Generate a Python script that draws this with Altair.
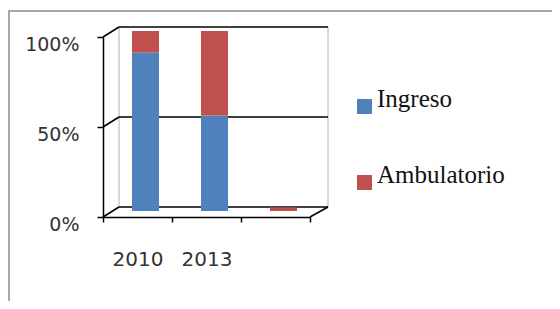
import altair as alt
import pandas as pd

categories = ["2010", "2013", " "]
series = ["Ingreso", "Ambulatorio"]
ingreso = [0.88, 0.53, 0.0]
ambulatorio = [0.12, 0.47, 0.02]
colors = ["#4F81BD", "#C0504D"]
wall_levels = [0.0, 0.5, 1.0]

rows = []
for i, c in enumerate(categories):
    rows.append({"cat": c, "serie": "Ingreso", "val": ingreso[i], "ord": 0})
    rows.append({"cat": c, "serie": "Ambulatorio", "val": ambulatorio[i], "ord": 1})
df = pd.DataFrame(rows)
walls = pd.DataFrame({"v": wall_levels})

W, H = 207, 180
DX, DY = 16, -10
PL, PT = 95, 29
TOTW, TOTH = 544, 293

yscale = alt.Scale(domain=[0, 1])
xscale = alt.Scale(domain=categories, paddingInner=0, paddingOuter=0)

bars = alt.Chart(df).mark_bar(size=27, xOffset=8, yOffset=-6).encode(
    x=alt.X("cat:N", scale=xscale, sort=categories,
            axis=alt.Axis(title=None, labelAngle=0, tickBand="extent", tickSize=5,
                          domainColor="#000000", tickColor="#000000", labelColor="#333333",
                          labelFont="DejaVu Sans", labelFontSize=20, labelPadding=27,
                          domainWidth=1.5, tickWidth=1.5)),
    y=alt.Y("val:Q", stack="zero", scale=yscale,
            axis=alt.Axis(title=None, values=[0, 0.5, 1], format=".0%", grid=False,
                          tickSize=6, domainColor="#000000", tickColor="#000000",
                          labelColor="#333333", labelFont="DejaVu Sans", labelFontSize=19,
                          labelPadding=18, labelOffset=7, domainWidth=1.5, tickWidth=1.5)),
    color=alt.Color("serie:N", scale=alt.Scale(domain=series, range=colors),
                    legend=alt.Legend(title=None, orient="none", legendX=249, legendY=57,
                                      symbolType="square", symbolSize=225,
                                      symbolStrokeWidth=0,
                                      labelFont="Liberation Serif, Times New Roman, DejaVu Serif, serif",
                                      labelFontSize=25, labelColor="#111111",
                                      labelOffset=0, rowPadding=48,
                                      labelBaseline="alphabetic")),
    order=alt.Order("ord:Q"),
)

back_h = alt.Chart(walls).mark_rule(color="#000000", strokeWidth=1.5, yOffset=DY).encode(
    x=alt.value(DX), x2=alt.value(W + 18), y=alt.Y("v:Q", scale=yscale)
)
diag = alt.Chart(walls).mark_rule(color="#000000", strokeWidth=1.5, y2Offset=DY).encode(
    x=alt.value(0), x2=alt.value(DX), y=alt.Y("v:Q", scale=yscale), y2=alt.Y2("v")
)
floor_r = alt.Chart(walls).transform_filter("datum.v == 0").mark_rule(
    color="#000000", strokeWidth=1.5, y2Offset=DY).encode(
    x=alt.value(W), x2=alt.value(W + 18), y=alt.Y("v:Q", scale=yscale), y2=alt.Y2("v")
)
back_v = alt.Chart(pd.DataFrame({"p": [DX, W + 18]})).mark_rule(
    color="#b0b0b0", strokeWidth=1, yOffset=DY, y2Offset=DY).encode(
    x=alt.X("p:Q", scale=None), y=alt.datum(0, scale=yscale), y2=alt.datum(1)
)
frame_top = alt.Chart(walls).transform_filter("datum.v == 0").mark_rule(
    color="#a8a8a8", strokeWidth=2).encode(
    x=alt.value(-PL), x2=alt.value(TOTW - PL), y=alt.value(-PT + 3)
)
frame_left = alt.Chart(walls).transform_filter("datum.v == 0").mark_rule(
    color="#a8a8a8", strokeWidth=2).encode(
    x=alt.value(-PL + 1), y=alt.value(-PT + 3), y2=alt.value(TOTH - PT)
)

chart = alt.layer(frame_top, frame_left, back_v, back_h, diag, floor_r, bars).properties(
    width=W, height=H,
    autosize=alt.AutoSizeParams(type="none"),
    padding={"left": PL, "top": PT, "right": TOTW - PL - W, "bottom": TOTH - PT - H},
    background="#ffffff",
).configure_view(stroke=None)

chart.save("out.html", embed_options={"renderer": "svg", "actions": False})
